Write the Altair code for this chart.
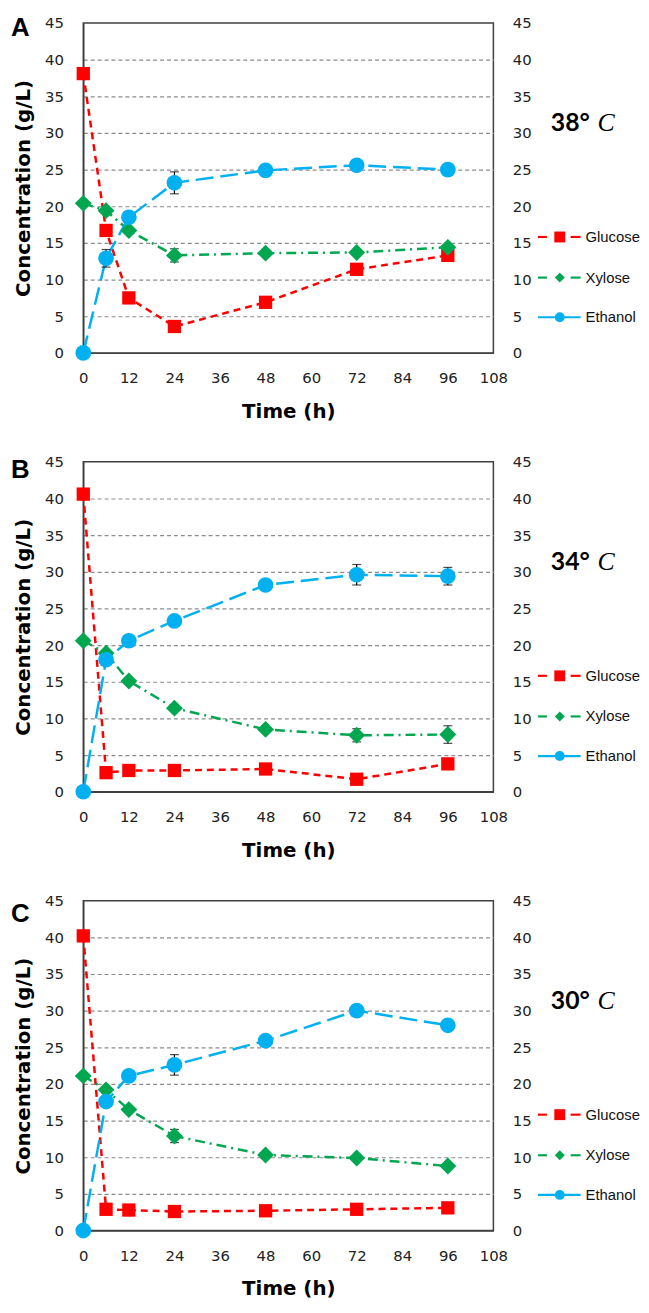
import altair as alt
import pandas as pd

# ---------------- data ----------------
time_h = [0, 6, 12, 24, 48, 72, 96]
x_ticks = [0, 12, 24, 36, 48, 60, 72, 84, 96, 108]
y_ticks = [0, 5, 10, 15, 20, 25, 30, 35, 40, 45]
series_names = ["Glucose", "Xylose", "Ethanol"]
panel_letters = ["A", "B", "C"]
temp_labels = ["38°", "34°", "30°"]

glucose_38 = [38.1, 16.7, 7.5, 3.6, 6.9, 11.4, 13.3]
xylose_38 = [20.4, 19.4, 16.7, 13.3, 13.6, 13.7, 14.4]
ethanol_38 = [0.0, 12.9, 18.5, 23.2, 24.9, 25.6, 25.0]
glucose_38_err = [0.2, 0.3, 0.3, 0.3, 0.3, 0.3, 0.3]
xylose_38_err = [0.3, 0.3, 0.4, 0.9, 0.3, 0.3, 0.3]
ethanol_38_err = [0.0, 1.2, 0.4, 1.5, 0.4, 0.3, 0.3]

glucose_34 = [40.6, 2.6, 2.9, 2.9, 3.1, 1.7, 3.8]
xylose_34 = [20.6, 18.9, 15.1, 11.4, 8.5, 7.7, 7.8]
ethanol_34 = [0.0, 18.0, 20.6, 23.3, 28.2, 29.6, 29.4]
glucose_34_err = [0.2, 0.3, 0.3, 0.3, 0.3, 0.3, 0.3]
xylose_34_err = [0.3, 0.3, 0.3, 0.3, 0.3, 0.9, 1.2]
ethanol_34_err = [0.0, 0.4, 0.4, 0.4, 0.4, 1.4, 1.2]

glucose_30 = [40.2, 2.9, 2.8, 2.6, 2.7, 2.9, 3.1]
xylose_30 = [21.1, 19.2, 16.5, 12.9, 10.3, 9.9, 8.8]
ethanol_30 = [0.0, 17.6, 21.1, 22.6, 25.9, 30.0, 28.0]
glucose_30_err = [0.2, 0.3, 0.3, 0.3, 0.3, 0.3, 0.3]
xylose_30_err = [0.3, 0.3, 0.3, 0.9, 0.3, 0.3, 0.3]
ethanol_30_err = [0.0, 0.4, 0.4, 1.4, 0.4, 0.4, 0.4]

panels_data = [
    ([glucose_38, xylose_38, ethanol_38], [glucose_38_err, xylose_38_err, ethanol_38_err]),
    ([glucose_34, xylose_34, ethanol_34], [glucose_34_err, xylose_34_err, ethanol_34_err]),
    ([glucose_30, xylose_30, ethanol_30], [glucose_30_err, xylose_30_err, ethanol_30_err]),
]

# ---------------- styles ----------------
colors = {"Glucose": "#FF0000", "Xylose": "#00A650", "Ethanol": "#00B0F0"}
dashes = {"Glucose": [7, 5], "Xylose": [10, 5, 2, 5], "Ethanol": [18, 7]}
shapes = {"Glucose": "square", "Xylose": "diamond", "Ethanol": "circle"}
sizes = {"Glucose": 180, "Xylose": 290, "Ethanol": 250}
leg_sizes = {"Glucose": 121, "Xylose": 100, "Ethanol": 100}
leg_y = {"Glucose": 216, "Xylose": 257, "Ethanol": 297}
letter_dy = [-8, -5, 1]

W, H = 414, 333
xs = alt.Scale(domain=[0, 108], nice=False, zero=False)
ys = alt.Scale(domain=[0, 45], nice=False, zero=True)

LABEL_FONT = "DejaVu Sans"
AX = "#404040"


def make_panel(i):
    vals, errs = panels_data[i]
    rows = []
    for s, v, e in zip(series_names, vals, errs):
        for t, y, er in zip(time_h, v, e):
            rows.append({"t": t, "value": y, "series": s, "lo": y - er, "hi": y + er, "err": er})
    df = pd.DataFrame(rows)
    base = alt.Chart(df)

    x_axis = alt.Axis(values=x_ticks, title="Time (h)", grid=False, ticks=False, tickSize=0,
                      labelPadding=18, labelFontSize=15, labelFont=LABEL_FONT, labelColor="#222222",
                      titleFontSize=20, titleFont=LABEL_FONT, titleFontWeight="bold", titleColor="#000000",
                      titlePadding=16, domainColor=AX, domainWidth=1.5, labelFlush=False)
    y_left = alt.Axis(values=y_ticks, title="Concentration (g/L)", grid=True, gridDash=[4, 3],
                      gridColor="#8c8c8c", gridWidth=1.2,
                      gridOpacity={"condition": {"test": "datum.value === 0 || datum.value === 45", "value": 0}, "value": 1},
                      ticks=False, tickSize=0, labelPadding=20, labelFontSize=15, labelFont=LABEL_FONT,
                      labelColor="#222222", titleFontSize=20, titleFont=LABEL_FONT, titleFontWeight="bold",
                      titleColor="#000000", titlePadding=11, domainColor=AX, domainWidth=1.5)
    y_right = alt.Axis(values=y_ticks, title=None, orient="right", grid=False, ticks=False, tickSize=0,
                       domain=False, labelPadding=19, labelFontSize=15, labelFont=LABEL_FONT,
                       labelColor="#222222")

    layers = []
    layers.append(base.mark_point(opacity=0).encode(
        x=alt.X("t:Q", scale=xs, axis=x_axis), y=alt.Y("value:Q", scale=ys, axis=y_left)))
    layers.append(base.mark_point(opacity=0).encode(
        x=alt.X("t:Q", scale=xs), y=alt.Y("value:Q", scale=ys, axis=y_right)))

    for s in series_names:
        sub = base.transform_filter(alt.datum.series == s)
        layers.append(sub.mark_line(color=colors[s], strokeDash=dashes[s], strokeWidth=2.5).encode(
            x=alt.X("t:Q", scale=xs), y=alt.Y("value:Q", scale=ys, axis=None)))
    for s in series_names:
        sub = base.transform_filter((alt.datum.series == s) & (alt.datum.err > 0))
        layers.append(sub.mark_errorbar(ticks=True, size=9, thickness=1.2, color="#000000", orient="vertical").encode(
            x=alt.X("t:Q", scale=xs), y=alt.Y("lo:Q", scale=ys, axis=None), y2="hi:Q"))
    for s in series_names:
        sub = base.transform_filter(alt.datum.series == s)
        layers.append(sub.mark_point(shape=shapes[s], filled=True, size=sizes[s], color=colors[s], opacity=1).encode(
            x=alt.X("t:Q", scale=xs), y=alt.Y("value:Q", scale=ys, axis=None)))

    # legend (drawn inside the panel, right side)
    for s in series_names:
        one = alt.Chart(pd.DataFrame({"name": [s]}))
        yy = leg_y[s]
        if s == "Ethanol":
            layers.append(one.mark_rule(color=colors[s], strokeWidth=2.2).encode(
                x=alt.value(459), x2=alt.value(502), y=alt.value(yy)))
        else:
            layers.append(one.mark_rule(color=colors[s], strokeWidth=2.2).encode(
                x=alt.value(459), x2=alt.value(468), y=alt.value(yy)))
            layers.append(one.mark_rule(color=colors[s], strokeWidth=2.2).encode(
                x=alt.value(492), x2=alt.value(502), y=alt.value(yy)))
        layers.append(one.mark_point(shape=shapes[s], filled=True, size=leg_sizes[s], color=colors[s], opacity=1).encode(
            x=alt.value(481), y=alt.value(yy)))
        layers.append(one.mark_text(align="left", baseline="middle", font="Liberation Sans", fontSize=15,
                                    color="#111111").encode(x=alt.value(507), y=alt.value(yy), text="name:N"))

    # temperature label
    tdf = alt.Chart(pd.DataFrame({"label": [temp_labels[i]], "unit": ["C"]}))
    layers.append(tdf.mark_text(align="left", baseline="alphabetic", font="Lato", fontWeight="bold",
                                fontSize=25, color="#000000").encode(x=alt.value(472), y=alt.value(109), text="label:N"))
    layers.append(tdf.mark_text(align="left", baseline="alphabetic", font="Liberation Serif", fontStyle="italic",
                                fontSize=26, color="#000000").encode(x=alt.value(519), y=alt.value(109), text="unit:N"))

    # panel letter
    ldf = alt.Chart(pd.DataFrame({"letter": [panel_letters[i]]}))
    layers.append(ldf.mark_text(align="left", baseline="top", font="Liberation Sans", fontWeight="bold",
                                fontSize=26, color="#000000").encode(x=alt.value(-73), y=alt.value(letter_dy[i]), text="letter:N"))

    return alt.layer(*layers).resolve_axis(y="independent").properties(width=W, height=H)


chart = alt.vconcat(make_panel(0), make_panel(1), make_panel(2), spacing=32).properties(
    padding={"left": 2, "top": 0, "right": 0, "bottom": 0}
).configure_view(stroke=AX, strokeWidth=1.5)

chart.save("out.html", embed_options={"renderer": "svg", "actions": False})
